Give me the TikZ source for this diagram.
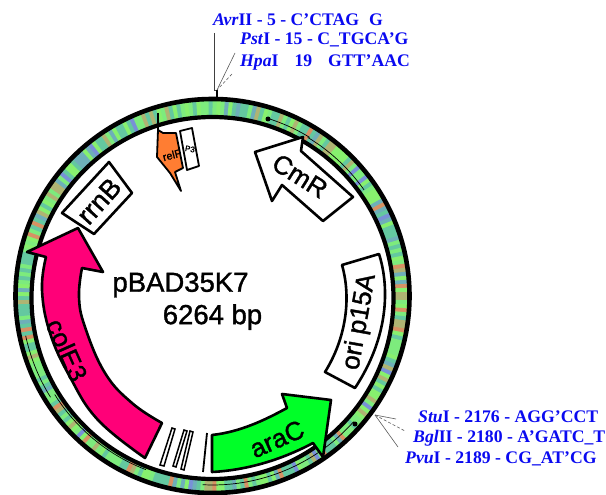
\documentclass[tikz,border=0pt]{standalone}
\usepackage{fontspec}
\setmainfont{Liberation Serif}
\newfontfamily\genefont{Liberation Sans}[FakeBold=1.3]
\definecolor{labelblue}{RGB}{10,10,240}
\definecolor{gpink}{RGB}{255,0,120}
\definecolor{ggreen}{RGB}{0,255,40}
\definecolor{gorange}{RGB}{255,125,50}
\definecolor{sa}{RGB}{125,235,125}
\definecolor{sb}{RGB}{100,200,160}
\definecolor{sc}{RGB}{110,175,185}
\definecolor{sd}{RGB}{175,180,115}
\definecolor{se}{RGB}{135,240,110}
\definecolor{sf}{RGB}{120,145,215}
\definecolor{sg}{RGB}{215,145,100}
\pgfmathdeclarerandomlist{stripes}{{sa}{sa}{sa}{sb}{sb}{sb}{sc}{sd}{se}{se}{sa}{sb}{sc}{sd}{se}{sb}{sa}{se}{sf}{sg}}
\tikzset{
  x=1pt,y=-1pt,
  gene/.style={draw=black,line width=2.6pt,line join=round},
  gname/.style={font=\genefont\fontsize{#1}{#1}\selectfont,inner sep=0pt},
  site/.style={font=\fontsize{17.7}{17.7}\selectfont\bfseries,text=labelblue,inner sep=0pt,anchor=west},
  lead/.style={draw=black!65,line width=0.6pt},
  feat/.style={draw=black,line width=0.7pt},
  bar/.style={draw=black,line width=1.5pt,fill=white},
}
\newcommand{\cx}{212.5}
\newcommand{\cy}{296}
\begin{document}
\begin{tikzpicture}
\useasboundingbox (0,0) rectangle (606,495);
\clip (0,0) rectangle (606,495);
% sequence stripes
\pgfmathsetseed{7}
\foreach \a in {0,1.2,...,359}{
  \pgfmathrandomitem{\c}{stripes}
  \draw[line width=19pt,color=\c] ({\cx+188*cos(\a)},{\cy+188*sin(\a)}) -- ({\cx+188*cos(\a+1.4)},{\cy+188*sin(\a+1.4)});
}
\draw[line width=4.2pt,fill=white] (\cx,298) circle[radius=181];
\draw[line width=4.6pt] (\cx,\cy) circle[radius=197];
% thin feature arcs on the ring
\foreach \p/\q/\r in {-73/-58.5/186,-59/-35/185,41.7/93/189,111/148/186,148/168/191}{
  \draw[feat] plot[domain=\p:\q,samples=24] ({\cx+\r*cos(\x)},{\cy+\r*sin(\x)});
}
\coordinate (dotA) at (268,119);
\coordinate (dotB) at (355,424);
\fill (dotA) circle[radius=2.5];
\fill (dotB) circle[radius=2.5];
% colE3
\draw[gene,fill=gpink] plot[smooth,tension=0.7] coordinates {(145,458) (98,420) (70,377) (50,333) (42,290) (46,257)}
  -- (27,252) -- (78,228) -- (103,272) -- (82,268)
  -- plot[smooth,tension=0.7] coordinates {(82,268) (79,297) (85,327) (105,373) (132,403) (162,423)} -- cycle;
\node[gname=26,rotate=-66] (cole) at (67,350) {colE3};
% araC
\draw[gene,fill=ggreen] (212,472) .. controls (250,470) and (285,458) .. (313,443)
  -- (323,457) -- (331,400) -- (282,394) -- (287,408)
  .. controls (265,420) and (240,432) .. (212,435) -- cycle;
\node[gname=26,rotate=24] (arac) at (277,439) {araC};
% CmR
\draw[gene,fill=white] (255,152) -- (303,137) -- (301,151) -- (353,197) -- (323,221) -- (282,185) -- (272,201) -- cycle;
\node[gname=26,rotate=-32] (cmr) at (300,176) {CmR};
% ori p15A
\draw[gene,fill=white] (342,265) -- (379,254) .. controls (389,285) and (390,335) .. (355,388)
  -- (325,372) .. controls (345,340) and (352,300) .. (342,265) -- cycle;
\node[gname=26,rotate=80] (ori) at (360,322) {ori p15A};
% rrnB
\draw[gene,fill=white] (109,162) -- (132,193) -- (94,234) -- (62,213) -- cycle;
\node[gname=27,rotate=48] (rrnb) at (99,201) {rrnB};
% relF
\draw[line width=2.6pt] (158,113) -- (158,132);
\draw[gene,fill=gorange,line width=1.8pt] (163,133) -- (176,133) -- (183,168) -- (175,172) -- (181,191) -- (170,173) -- (157,157) -- (158,130) -- cycle;
\node[gname=11,rotate=15] (relf) at (172,155) {relF};
\draw[gene,fill=white,line width=1.8pt] (180,131) -- (192,128) -- (199,166) -- (187,170) -- cycle;
\node[gname=8,rotate=-10] (pt) at (190,149) {P3};
% small bars
\draw[bar] (172,428) -- (175,429) -- (164,466) -- (160,465) -- cycle;
\draw[bar] (184,430) -- (187,431) -- (176,467) -- (173,466) -- cycle;
\draw[bar] (190,431) -- (193,432) -- (184,470) -- (181,469) -- cycle;
\draw[line width=1.8pt] (207,433) -- (203,472);
% site labels
\node[site] (avr) at (213,20) {\textit{Avr}II - 5 - C'CTAG\hspace{10pt}G};
\node[site] (pst) at (240,40) {\textit{Pst}I - 15 - C\_TGCA'G};
\node[site] (hpa) at (240,62) {\textit{Hpa}I\hspace{16pt}19\hspace{16pt}GTT'AAC};
\node[site] (stu) at (418,417) {\textit{Stu}I - 2176 - AGG'CCT};
\node[site] (bgl) at (413,438) {\textit{Bgl}II - 2180 - A'GATC\_T};
\node[site] (pvu) at (405,459) {\textit{Pvu}I - 2189 - CG\_AT'CG};
% leaders
\coordinate (top) at (217,90);
\coordinate (topa) at (214,33);
\coordinate (topb) at (235,53);
\coordinate (topc) at (232,74);
\coordinate (topd) at (217,99);
\draw[black!75,line width=0.8pt] (topa) -- (214,90) -- (top);
\draw[line width=1.6pt] (top) -- (topd);
\draw[lead] (topb) -- (top);
\draw[lead,densely dashed] (topc) -- (top);
\coordinate (low) at (375,415);
\coordinate (lowa) at (396,419);
\coordinate (lowb) at (405,431);
\coordinate (lowc) at (398,447);
\draw[lead] (low) -- (lowa);
\draw[lead,densely dashed] (low) -- (lowb);
\draw[lead] (low) -- (lowc);
% title
\node[gname=27.5,anchor=center] (title) at (180.5,285) {pBAD35K7};
\node[gname=27.5,anchor=center] (size) at (212.5,317) {6264 bp};
\end{tikzpicture}
\end{document}
